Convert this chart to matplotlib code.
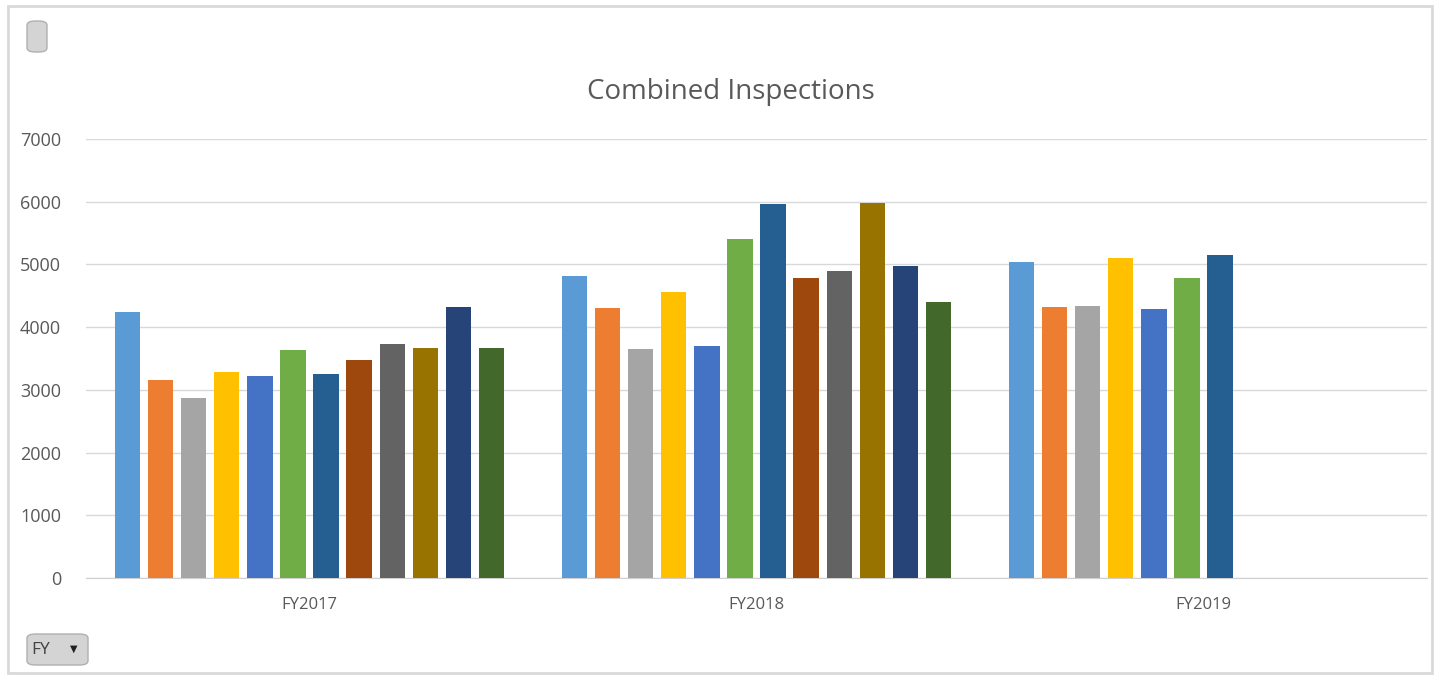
import matplotlib
matplotlib.use("Agg")
import matplotlib.pyplot as plt
from matplotlib.patches import FancyBboxPatch, Rectangle
import numpy as np

plt.rcParams["font.family"] = ["Open Sans", "DejaVu Sans"]

# Data (one value per month series)
years = ["FY2017", "FY2018", "FY2019"]
fy2017 = [4245, 3160, 2867, 3287, 3218, 3628, 3255, 3484, 3739, 3670, 4319, 3670]
fy2018 = [4819, 4298, 3649, 4553, 3707, 5399, 5957, 4787, 4894, 5973, 4979, 4404]
fy2019 = [5037, 4314, 4335, 5106, 4282, 4782, 5144]
colors = ["#5B9BD5", "#ED7D31", "#A5A5A5", "#FFC000", "#4472C4", "#70AD47",
          "#255E91", "#9E480E", "#636363", "#997300", "#264478", "#43682B"]
yticks = [0, 1000, 2000, 3000, 4000, 5000, 6000, 7000]

W, H = 1438, 677
fig = plt.figure(figsize=(W / 100, H / 100), dpi=100)

# outer chart border
fig.patches.append(Rectangle((8 / W, 1 - 673 / H), 1424 / W, 667 / H,
                             transform=fig.transFigure, fill=False,
                             edgecolor="#d9d9d9", linewidth=2))

ax = fig.add_axes([86 / W, 1 - 578 / H, 1341 / W, 439 / H])

slot = 0.0741
bar_w = 0.057
n_series = len(colors)
all_years = [fy2017, fy2018, fy2019]
for j in range(n_series):
    xs, hs = [], []
    for i, vals in enumerate(all_years):
        if j < len(vals):
            xs.append(i + (j - (n_series - 1) / 2) * slot)
            hs.append(vals[j])
    ax.bar(xs, hs, width=bar_w, color=colors[j], zorder=3)

ax.set_xlim(-0.5, 2.5)
ax.set_ylim(0, 7000)
ax.set_yticks(yticks)
ax.set_yticklabels([str(t) for t in yticks], fontsize=13, color="#595959")
ax.set_xticks(range(len(years)))
ax.set_xticklabels(years, fontsize=12, color="#595959")
ax.tick_params(length=0)
ax.tick_params(axis="y", pad=18)
ax.tick_params(axis="x", pad=14)
ax.grid(axis="y", color="#d9d9d9", linewidth=1, zorder=0)
for s in ["top", "right", "left"]:
    ax.spines[s].set_visible(False)
ax.spines["bottom"].set_color("#d0d0d0")

fig.text(731 / W, 1 - 92 / H, "Combined Inspections", ha="center", va="center",
         fontsize=20, color="#595959")

# pivot field buttons
fig.patches.append(FancyBboxPatch((27 / W, 1 - 52 / H), 20 / W, 31 / H,
                                  boxstyle="round,pad=0,rounding_size=0.006",
                                  transform=fig.transFigure,
                                  facecolor="#d4d4d4", edgecolor="#b0b0b0", linewidth=1))
fig.patches.append(FancyBboxPatch((27 / W, 1 - 665 / H), 61 / W, 31 / H,
                                  boxstyle="round,pad=0,rounding_size=0.006",
                                  transform=fig.transFigure,
                                  facecolor="#d4d4d4", edgecolor="#b0b0b0", linewidth=1))
fig.text(31 / W, 1 - 650 / H, "FY", ha="left", va="center", fontsize=12.5, color="#404040")
fig.text(74 / W, 1 - 649 / H, "▼", ha="center", va="center", fontsize=7,
         color="#202020", family="DejaVu Sans")

fig.savefig("out.png", dpi=100)
